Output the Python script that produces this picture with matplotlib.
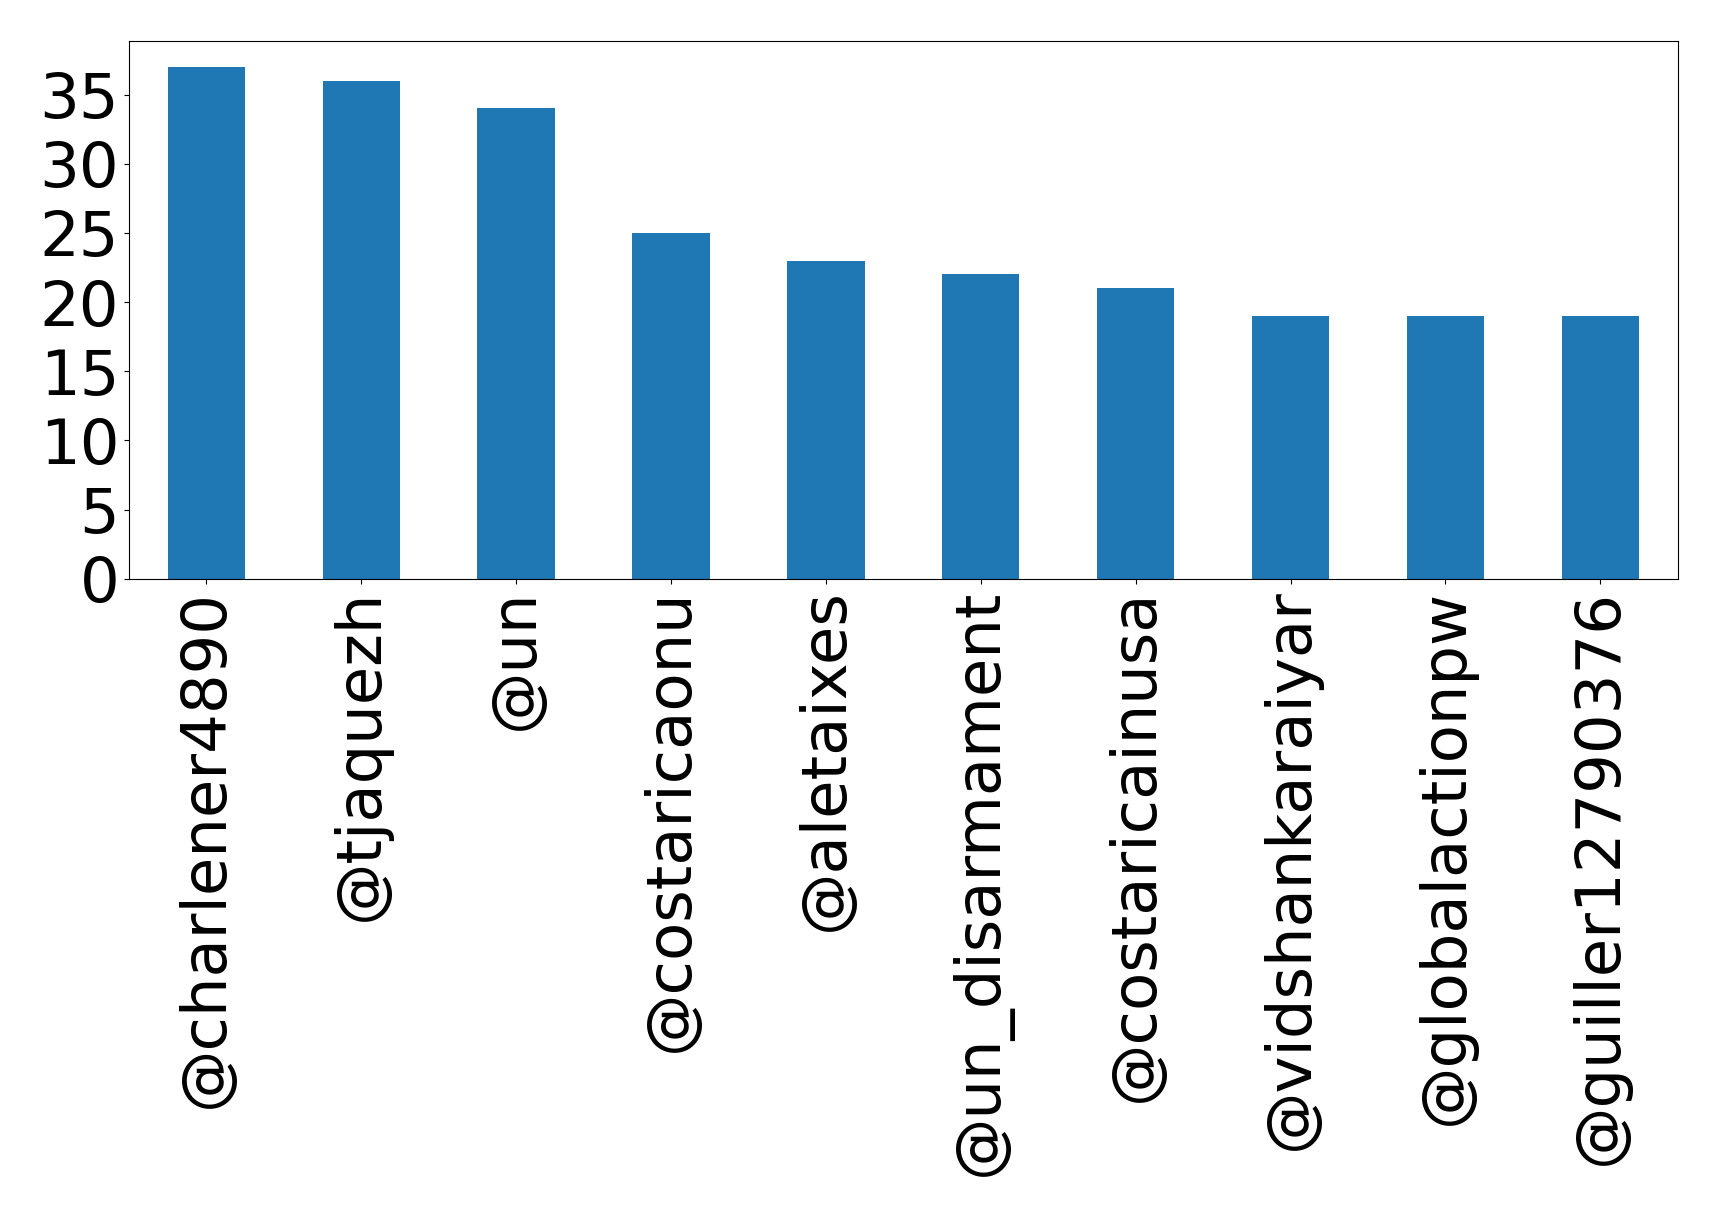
import matplotlib
matplotlib.use("Agg")
import matplotlib.pyplot as plt

users = ["@charlener4890", "@tjaquezh", "@un", "@costaricaonu", "@aletaixes",
         "@un_disarmament", "@costaricainusa", "@vidshankaraiyar", "@globalactionpw",
         "@guiller12790376"]
counts = [37, 36, 34, 25, 23, 22, 21, 19, 19, 19]

fig = plt.figure(figsize=(17.19, 12.16), dpi=100)
ax = fig.add_axes([0.075, 0.524, 0.901, 0.442])
x = list(range(len(users)))
ax.bar(x, counts, width=0.5, color="#1f77b4")
ax.set_xlim(-0.5, len(users) - 0.5)
ax.set_xticks(x)
ax.set_xticklabels(users, rotation=90, fontsize=45)
ax.set_yticks([0, 5, 10, 15, 20, 25, 30, 35])
ax.tick_params(axis="y", labelsize=45)
fig.savefig("out.png", dpi=100)
